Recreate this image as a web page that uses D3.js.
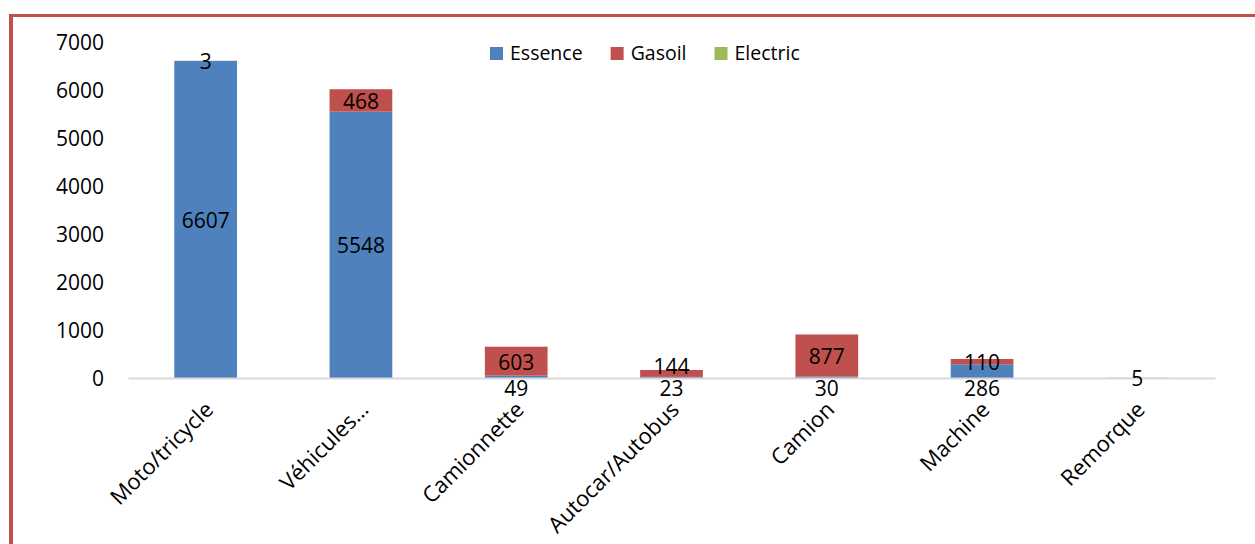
<!DOCTYPE html>
<html>
<head>
<meta charset="utf-8">
<script src="https://cdn.jsdelivr.net/npm/d3@7"></script>
<style>
  html, body { margin: 0; padding: 0; background: #fff; }
  svg { display: block; }
  text { font-family: "Open Sans", "Noto Sans", sans-serif; fill: #000; }
</style>
</head>
<body>
<svg id="chart" width="1255" height="544"></svg>
<script>
// ---- data ----
const categories = ["Moto/tricycle", "Véhicules…", "Camionnette", "Autocar/Autobus", "Camion", "Machine", "Remorque"];
const essenceValues = [6607, 5548, 49, 23, 30, 286, null];
const gasoilValues = [null, 468, 603, 144, 877, 110, 5];
const electricValues = [3, null, null, null, null, null, null];
const seriesNames = ["Essence", "Gasoil", "Electric"];
const seriesColors = ["#4F81BD", "#C0504D", "#9BBB59"];
const yTickValues = [0, 1000, 2000, 3000, 4000, 5000, 6000, 7000];

// ---- layout ----
const W = 1255, H = 544;
const plot = { left: 128, right: 1215, top: 42, bottom: 378 };
const svg = d3.select("#chart");

// frame (partial border like the source)
svg.append("rect").attr("x", 9).attr("y", 14).attr("width", W - 9).attr("height", 3).attr("fill", "#C0504D");
svg.append("rect").attr("x", 9).attr("y", 14).attr("width", 4).attr("height", H - 14).attr("fill", "#C0504D");

const rows = categories.map((c, i) => ({
  cat: c,
  Essence: essenceValues[i],
  Gasoil: gasoilValues[i],
  Electric: electricValues[i]
}));

const x = d3.scaleBand().domain(categories).range([plot.left, plot.right]).paddingInner(0.596).paddingOuter(0.298);
const y = d3.scaleLinear().domain([0, 7000]).range([plot.bottom, plot.top]);

const stack = d3.stack().keys(seriesNames).value((d, k) => d[k] == null ? 0 : d[k]);
const stacked = stack(rows);

// y tick labels (no axis line, no gridlines)
const yAxis = d3.axisLeft(y).tickValues(yTickValues).tickSize(0).tickPadding(0).tickFormat(d3.format("d"));
const yg = svg.append("g").attr("transform", `translate(104,0)`).call(yAxis);
yg.select(".domain").remove();
yg.selectAll("text").attr("font-size", 21).attr("font-family", "'Open Sans', sans-serif").attr("fill", "#000").attr("dy", "0.36em").attr("x", 0);

// bars
stacked.forEach((layer, si) => {
  svg.append("g").selectAll("rect").data(layer).join("rect")
    .attr("x", d => x(d.data.cat))
    .attr("width", x.bandwidth())
    .attr("y", d => y(d[1]))
    .attr("height", d => Math.max(0, y(d[0]) - y(d[1])))
    .attr("fill", seriesColors[si]);
});

// x axis line + category labels
const xAxis = d3.axisBottom(x).tickSize(0).tickFormat("");
const xg = svg.append("g").attr("transform", `translate(0,${plot.bottom})`).call(xAxis);
xg.select(".domain").attr("stroke", "#D9D9D9").attr("stroke-width", 2);

svg.append("g").selectAll("text").data(categories).join("text")
  .attr("transform", d => `translate(${x(d) + x.bandwidth() / 2 + 9},${plot.bottom + 33}) rotate(-45)`)
  .attr("text-anchor", "end")
  .attr("font-size", 22)
  .text(d => d);

// data labels
const labelH = 20;
const labels = [];
stacked.forEach((layer, si) => {
  layer.forEach((d, i) => {
    const v = d.data[seriesNames[si]];
    if (v == null) return;
    const mid = (y(d[0]) + y(d[1])) / 2 + 1;
    labels.push({ cat: d.data.cat, si, v, mid, segH: y(d[0]) - y(d[1]), i });
  });
});
labels.forEach(l => { l.cy = l.mid; });
labels.forEach(l => {
  if (l.si === 0) {
    const other = labels.find(o => o.i === l.i && o.si === 1);
    if (other && l.segH < labelH) {
      l.cy = plot.bottom + 10;
      other.cy = Math.min(other.mid, l.cy - 22);
    }
  }
});
svg.append("g").selectAll("text").data(labels).join("text")
  .attr("x", d => x(d.cat) + x.bandwidth() / 2)
  .attr("y", d => d.cy)
  .attr("dy", "0.36em")
  .attr("text-anchor", "middle")
  .attr("font-size", 21)
  .text(d => d.v);

// legend
const lg = svg.append("g");
let lx = 490;
seriesNames.forEach((n, i) => {
  lg.append("rect").attr("x", lx).attr("y", 47).attr("width", 13).attr("height", 13).attr("fill", seriesColors[i]);
  const t = lg.append("text").attr("x", lx + 20).attr("y", 60).attr("font-size", 19.5).text(n);
  lx += 20 + t.node().getComputedTextLength() + 28;
});
</script>
</body>
</html>
